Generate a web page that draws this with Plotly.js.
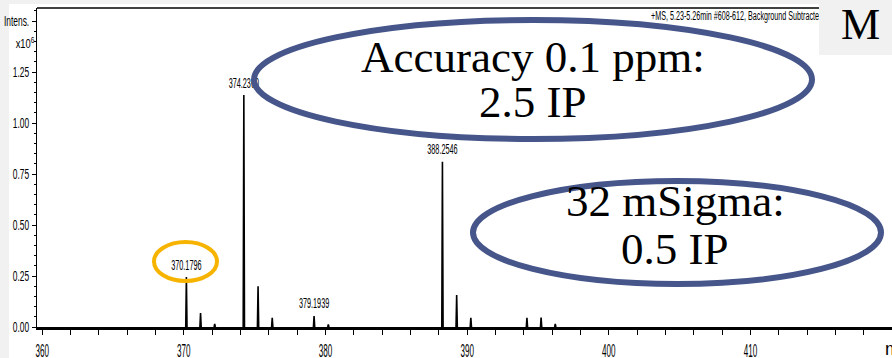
<!DOCTYPE html>
<html>
<head>
<meta charset="utf-8">
<script src="https://cdn.plot.ly/plotly-3.0.1.min.js"></script>
<style>html,body{margin:0;padding:0;background:#fff;}#chart{width:892px;height:358px;}</style>
</head>
<body>
<div id="chart"></div>
<script>
// ---- data ----
const peakMz        = [370.1796, 371.18, 372.18, 374.2360, 375.24, 376.24, 379.1939, 380.20, 388.2546, 389.26, 390.26, 394.22, 395.22, 396.22];
const peakIntensity = [0.245, 0.069, 0.015, 1.137, 0.200, 0.045, 0.054, 0.013, 0.810, 0.157, 0.045, 0.045, 0.046, 0.015];
const labelMz        = [370.1796, 374.2360, 379.1939, 388.2546];
const labelIntensity = [0.245, 1.137, 0.054, 0.810];
const labelText      = ['370.1796', '374.2360', '379.1939', '388.2546'];
const xTickVals = [360, 370, 380, 390, 400, 410];
const yTickVals = [0, 0.25, 0.5, 0.75, 1.0, 1.25, 1.5];
const yTickText = ['0.00', '0.25', '0.50', '0.75', '1.00', '1.25', 'Intens.'];
const headerText = '+MS, 5.23-5.26min #608-612, Background Subtracted';
const callout1 = ['Accuracy 0.1 ppm:', '2.5 IP'];
const callout2 = ['32 mSigma:', '0.5 IP'];

// ---- geometry helpers (pixel -> paper) ----
const L = 37, T = 8, W = 855, H = 319;
const X0 = 359.635, X1 = 419.99, Y1 = 1.5637;
const px = p => (p - L) / W;
const py = p => (T + H - p) / H;
const dataX = p => X0 + (p - L) / W * (X1 - X0);
const dataY = p => (T + H - p) / H * Y1;
const pxToUnits = Y1 / H;            // one pixel, in intensity units

// build stick spectrum from arrays
const hw = 0.045;
const sx = [], sy = [];
peakMz.forEach((m, i) => {
  sx.push(m - hw, m, m + hw, null);
  sy.push(0, peakIntensity[i], 0, null);
});
// labels sit a few pixels above their peak tops
const labelY = labelIntensity.map(v => v + 4 * pxToUnits);

const sans = 'Liberation Sans, Arial, sans-serif';
const serif = 'Liberation Serif, Times New Roman, serif';

const traces = [
  {type: 'scatter', mode: 'lines', x: sx, y: sy, line: {color: '#000', width: 1.6},
   hoverinfo: 'skip', showlegend: false},
  {type: 'scatter', mode: 'text', x: labelMz, y: labelY, text: labelText,
   textposition: 'top center', textfont: {family: sans, size: 14, color: '#000'},
   hoverinfo: 'skip', showlegend: false, cliponaxis: false},
  {type: 'scatter', mode: 'text', x: [dataX(651)], y: [dataY(17)], text: [headerText],
   textposition: 'middle right', textfont: {family: sans, size: 12, color: '#000'},
   hoverinfo: 'skip', showlegend: false, cliponaxis: false}
];

const blue = '#46568A';
const shapes = [
  {type: 'rect', xref: 'paper', yref: 'paper', x0: px(0), x1: px(9), y0: py(358), y1: py(0),
   fillcolor: '#f1f1f1', line: {width: 0}, layer: 'below'},
  {type: 'rect', xref: 'paper', yref: 'paper', x0: px(0), x1: px(892), y0: py(4), y1: py(0),
   fillcolor: '#f1f1f1', line: {width: 0}, layer: 'below'},
  {type: 'line', xref: 'paper', yref: 'paper', x0: 0, x1: px(819), y0: 1, y1: 1,
   line: {color: '#000', width: 1.5}, layer: 'above'},
  {type: 'rect', xref: 'paper', yref: 'paper', x0: px(819), x1: px(892), y0: py(55), y1: py(0),
   fillcolor: '#f1f1f1', line: {width: 0}, layer: 'above'},
  {type: 'circle', xref: 'paper', yref: 'paper', x0: px(254), x1: px(812), y0: py(139), y1: py(20),
   line: {color: blue, width: 6}, layer: 'above'},
  {type: 'circle', xref: 'paper', yref: 'paper', x0: px(473), x1: px(881), y0: py(284), y1: py(181),
   line: {color: blue, width: 6}, layer: 'above'},
  {type: 'circle', xref: 'paper', yref: 'paper', x0: px(154), x1: px(217), y0: py(281), y1: py(242),
   line: {color: '#F6B400', width: 4}, layer: 'above'}
];

const ann = (text, x, y, size, font, xanchor) => ({
  text, xref: 'paper', yref: 'paper', x: px(x), y: py(y), xanchor: xanchor || 'center', yanchor: 'middle',
  showarrow: false, font: {family: font, size, color: '#000'}
});

const annotations = [
  ann(callout1[0], 533, 57, 45, serif),
  ann(callout1[1], 533, 102, 45, serif),
  ann(callout2[0], 675, 201, 45, serif),
  ann(callout2[1], 675, 249, 45, serif),
  ann('M', 860, 24, 44, serif),
  ann('x10<sup>6</sup>', 25, 43, 13, sans, 'center'),
  ann('m/z', 883, 349, 18, sans, 'left')
];

const layout = {
  width: 892, height: 358,
  margin: {l: L, r: 0, t: T, b: 358 - T - H, pad: 0},
  paper_bgcolor: '#ffffff', plot_bgcolor: '#ffffff',
  showlegend: false,
  xaxis: {
    range: [X0, X1], tickmode: 'array', tickvals: xTickVals,
    showgrid: false, zeroline: false, showline: true, linecolor: '#000', linewidth: 2.5,
    ticks: 'outside', ticklen: 5, tickwidth: 1, tickcolor: '#000',
    minor: {tickmode: 'linear', tick0: 360, dtick: 2, ticks: 'outside', ticklen: 5, tickwidth: 1, tickcolor: '#000'},
    tickfont: {family: sans, size: 18, color: '#000'}, ticklabelstandoff: 1,
    fixedrange: true
  },
  yaxis: {
    range: [0, Y1], tickmode: 'array', tickvals: yTickVals, ticktext: yTickText,
    showgrid: false, zeroline: false, showline: true, linecolor: '#000', linewidth: 1,
    ticks: 'outside', ticklen: 4, tickwidth: 1, tickcolor: '#000',
    minor: {tickmode: 'linear', tick0: 0, dtick: 0.05, ticks: 'outside', ticklen: 2, tickwidth: 1, tickcolor: '#000'},
    tickfont: {family: sans, size: 14, color: '#000'}, ticklabelstandoff: 0,
    fixedrange: true
  },
  shapes, annotations
};

// squeeze the instrument-software labels horizontally (they are condensed in the reference)
function squeezeEl(t, factor) {
  const len = t.getComputedTextLength();
  if (len > 0) {
    t.setAttribute('textLength', (len * factor).toFixed(2));
    t.setAttribute('lengthAdjust', 'spacingAndGlyphs');
  }
}
function squeeze(selector, factor) {
  document.querySelectorAll(selector).forEach(t => squeezeEl(t, factor));
}

Plotly.newPlot('chart', traces, layout, {staticPlot: true, displayModeBar: false}).then(() => {
  squeeze('.xtick text', 0.45);
  squeeze('.ytick text', 0.6);
  document.querySelectorAll('.textpoint text').forEach(t => {
    if (t.textContent === headerText) {
      t.setAttribute('textLength', '172');
      t.setAttribute('lengthAdjust', 'spacingAndGlyphs');
    } else {
      squeezeEl(t, 0.52);
    }
  });
  document.querySelectorAll('.annotation-text').forEach(t => {
    if (t.textContent.indexOf('x10') === 0) squeezeEl(t, 0.72);
  });
});
</script>
</body>
</html>
